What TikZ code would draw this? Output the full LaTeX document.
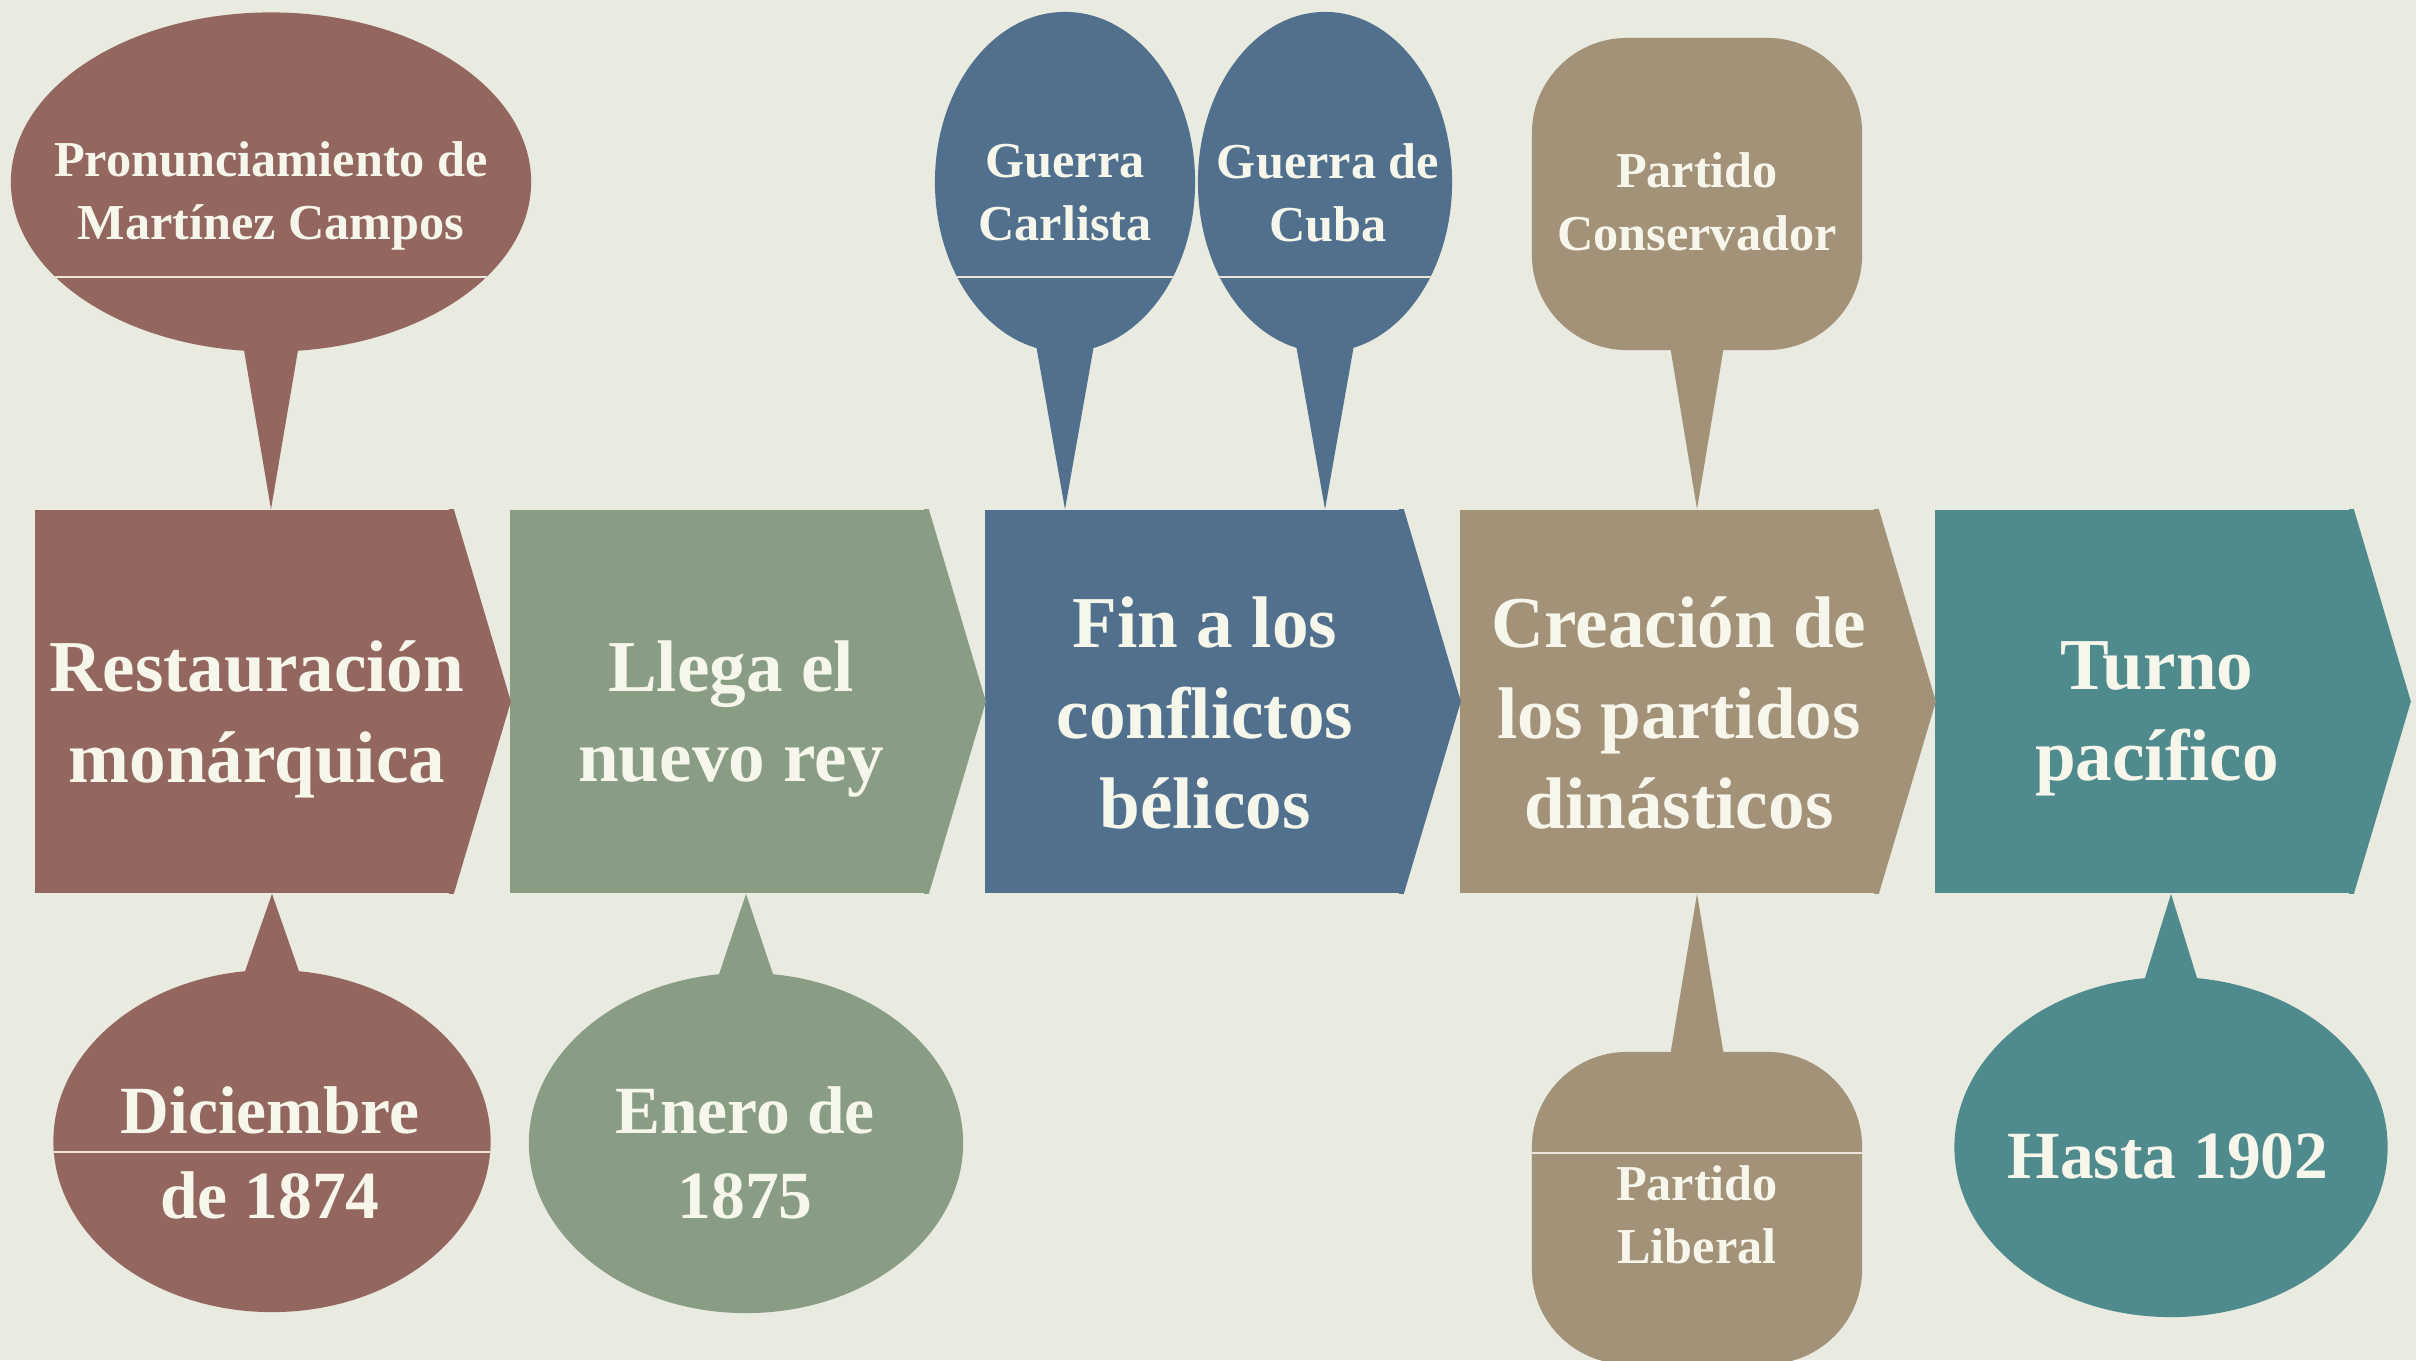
\documentclass[tikz,border=0pt]{standalone}
\usepackage{fontspec}
\setmainfont{Liberation Serif}
\usetikzlibrary{shapes.geometric}

\definecolor{paper}{HTML}{E9EAE0}
\definecolor{rust}{HTML}{93675F}
\definecolor{sage}{HTML}{889D84}
\definecolor{slate}{HTML}{50708D}
\definecolor{khaki}{HTML}{A29278}
\definecolor{sea}{HTML}{4F8A8C}
\definecolor{cream}{HTML}{F6F6EA}
\definecolor{seam}{HTML}{EFE4DA}

\begin{document}
\begin{tikzpicture}[x=0.01cm, y=-0.01cm,
  stage/.style={fill=#1, minimum width=4.18cm, minimum height=3.83cm, inner sep=0pt},
  bubble/.style={ellipse, fill=#1, inner sep=0pt},
  pad/.style={rounded corners=0.95cm, fill=#1, minimum width=3.3cm, minimum height=3.12cm, inner sep=0pt},
  cut/.style={path picture={\draw[seam, line width=0.8pt] ([yshift=#1]path picture bounding box.west) -- ([yshift=#1]path picture bounding box.east);}},
  bigtxt/.style={text=cream, align=center, font=\fontsize{20.8}{25.8}\selectfont\bfseries},
  midtxt/.style={text=cream, align=center, font=\fontsize{19.2}{24.2}\selectfont\bfseries},
  smalltxt/.style={text=cream, align=center, font=\fontsize{14.3}{17.9}\selectfont\bfseries}]
\useasboundingbox (0,0) rectangle (2416,1360);
\clip (0,0) rectangle (2416,1360);
\fill[paper] (0,0) rectangle (2416,1360);

% timeline
\node[stage=rust] (s1) at (244,701.5) {};
\node[stage=sage] (s2) at (719,701.5) {};
\node[stage=slate] (s3) at (1194,701.5) {};
\node[stage=khaki] (s4) at (1669,701.5) {};
\node[stage=sea] (s5) at (2144,701.5) {};

\fill[rust] ([xshift=-0.05cm]s1.north east) -- (s1.north east) -- ([xshift=0.57cm]s1.east) -- (s1.south east) -- ([xshift=-0.05cm]s1.south east) -- cycle;
\fill[sage] ([xshift=-0.05cm]s2.north east) -- (s2.north east) -- ([xshift=0.57cm]s2.east) -- (s2.south east) -- ([xshift=-0.05cm]s2.south east) -- cycle;
\fill[slate] ([xshift=-0.05cm]s3.north east) -- (s3.north east) -- ([xshift=0.57cm]s3.east) -- (s3.south east) -- ([xshift=-0.05cm]s3.south east) -- cycle;
\fill[khaki] ([xshift=-0.05cm]s4.north east) -- (s4.north east) -- ([xshift=0.57cm]s4.east) -- (s4.south east) -- ([xshift=-0.05cm]s4.south east) -- cycle;
\fill[sea] ([xshift=-0.05cm]s5.north east) -- (s5.north east) -- ([xshift=0.57cm]s5.east) -- (s5.south east) -- ([xshift=-0.05cm]s5.south east) -- cycle;

% bubbles
\node[bubble=rust, minimum width=5.2cm, minimum height=3.39cm, cut=-0.95cm] (b1) at (271,182) {};
\node[bubble=slate, minimum width=2.6cm, minimum height=3.4cm, cut=-0.95cm] (b2) at (1065,182) {};
\node[bubble=slate, minimum width=2.54cm, minimum height=3.4cm, cut=-0.95cm] (b3) at (1325,182) {};
\node[pad=khaki] (b4) at (1697,194) {};
\node[bubble=rust, minimum width=4.37cm, minimum height=3.42cm, cut=-0.11cm] (b5) at (272,1141) {};
\node[bubble=sage, minimum width=4.34cm, minimum height=3.4cm] (b6) at (746,1143) {};
\node[pad=khaki, cut=0.55cm] (b7) at (1697,1208) {};
\node[bubble=sea, minimum width=4.33cm, minimum height=3.4cm] (b8) at (2171,1147) {};

% tails
\fill[rust] ([xshift=-0.28cm,yshift=0.08cm]b1.south) -- ([xshift=0.28cm,yshift=0.08cm]b1.south) -- (b1.south |- s1.north) -- cycle;
\fill[slate] ([xshift=-0.29cm,yshift=0.08cm]b2.south) -- ([xshift=0.29cm,yshift=0.08cm]b2.south) -- (b2.south |- s3.north) -- cycle;
\fill[slate] ([xshift=-0.29cm,yshift=0.08cm]b3.south) -- ([xshift=0.29cm,yshift=0.08cm]b3.south) -- (b3.south |- s3.north) -- cycle;
\fill[khaki] ([xshift=-0.27cm,yshift=0.05cm]b4.south) -- ([xshift=0.27cm,yshift=0.05cm]b4.south) -- (b4.south |- s4.north) -- cycle;
\fill[rust] ([xshift=-0.28cm,yshift=-0.05cm]b5.north) -- ([xshift=0.28cm,yshift=-0.05cm]b5.north) -- (b5.north |- s1.south) -- cycle;
\fill[sage] ([xshift=-0.28cm,yshift=-0.05cm]b6.north) -- ([xshift=0.28cm,yshift=-0.05cm]b6.north) -- (b6.north |- s2.south) -- cycle;
\fill[khaki] ([xshift=-0.27cm,yshift=-0.05cm]b7.north) -- ([xshift=0.27cm,yshift=-0.05cm]b7.north) -- (b7.north |- s4.south) -- cycle;
\fill[sea] ([xshift=-0.27cm,yshift=-0.05cm]b8.north) -- ([xshift=0.27cm,yshift=-0.05cm]b8.north) -- (b8.north |- s5.south) -- cycle;

% labels
\node[bigtxt] (t1) at (257,719) {Restauración\\monárquica};
\node[bigtxt] (t2) at (731,719) {Llega el\\nuevo rey};
\node[bigtxt] (t3) at (1205,713) {Fin a los\\conflictos\\bélicos};
\node[bigtxt] (t4) at (1679,713) {Creación de\\los partidos\\dinásticos};
\node[bigtxt] (t5) at (2157,719) {Turno\\pacífico};

\node[smalltxt] (l1) at (271,196) {Pronunciamiento de\\Martínez Campos};
\node[smalltxt] (l2) at (1065,193) {Guerra\\Carlista};
\node[smalltxt] (l3) at (1328,193) {Guerra de\\Cuba};
\node[smalltxt] (l4) at (1697,202) {Partido\\Conservador};
\node[midtxt] (l5) at (270,1153) {Diciembre\\de 1874};
\node[midtxt] (l6) at (745,1153) {Enero de\\1875};
\node[smalltxt] (l7) at (1697,1215) {Partido\\Liberal};
\node[midtxt] (l8) at (2168,1156) {Hasta 1902};
\end{tikzpicture}
\end{document}
